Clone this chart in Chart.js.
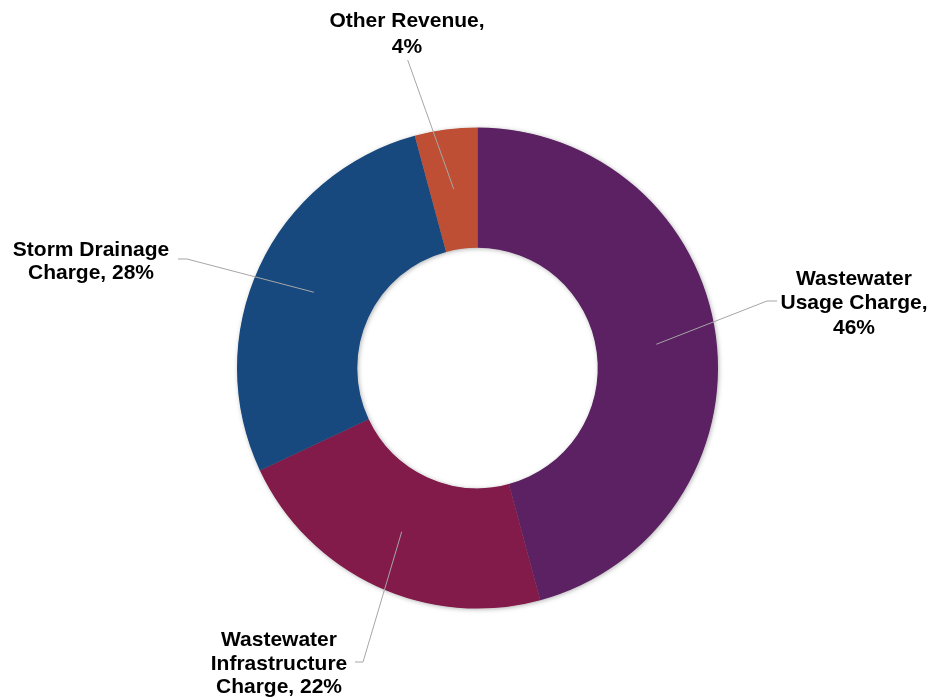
<!DOCTYPE html>
<html>
<head>
<meta charset="utf-8">
<script src="https://cdn.jsdelivr.net/npm/chart.js@4/dist/chart.umd.min.js"></script>
<style>
  html, body { margin: 0; padding: 0; background: #ffffff; }
  #wrap { width: 930px; height: 699px; }
</style>
</head>
<body>
<div id="wrap"><canvas id="c" width="930" height="699"></canvas></div>
<script>
// ---- data ----
const categories = ["Wastewater Usage Charge", "Wastewater Infrastructure Charge", "Storm Drainage Charge", "Other Revenue"];
const shares = [45.8, 22.2, 27.8, 4.2];
const labelLines = [
  ["Wastewater", "Usage Charge,", "{p}"],
  ["Wastewater", "Infrastructure", "Charge, {p}"],
  ["Storm Drainage", "Charge, {p}"],
  ["Other Revenue,", "{p}"]
];
const colors = ["#5B2162", "#821A4A", "#17497F", "#BE4F35"];

// ---- label layout (text placement like the original) ----
const labelLayout = [
  { x: 854, baselines: [285, 309, 334], leader: [[777, 301], [767, 301]] },
  { x: 279, baselines: [646, 669.5, 692.5], leader: [[355, 662], [363, 662]] },
  { x: 91, baselines: [256, 279], leader: [[178, 259], [187, 259]] },
  { x: 407, baselines: [27, 53], leader: [[407.7, 60]] }
];

const shadowRing = {
  id: 'shadowRing',
  beforeDatasetsDraw(chart) {
    const meta = chart.getDatasetMeta(0);
    const a = meta.data[0];
    if (!a) return;
    const ctx = chart.ctx;
    ctx.save();
    ctx.shadowColor = 'rgba(0,0,0,0.35)';
    ctx.shadowBlur = 5;
    ctx.shadowOffsetX = 1;
    ctx.shadowOffsetY = 1;
    ctx.fillStyle = '#888888';
    ctx.beginPath();
    ctx.arc(a.x, a.y, a.outerRadius - 0.5, 0, Math.PI * 2, false);
    ctx.arc(a.x, a.y, a.innerRadius + 0.5, 0, Math.PI * 2, true);
    ctx.closePath();
    ctx.fill();
    ctx.restore();
  }
};

const labelsPlugin = {
  id: 'sliceLabels',
  afterDatasetsDraw(chart) {
    const ctx = chart.ctx;
    const meta = chart.getDatasetMeta(0);
    const total = shares.reduce((s, v) => s + v, 0);
    meta.data.forEach((arc, i) => {
      const lay = labelLayout[i];
      const mid = arc.tooltipPosition();
      // leader line
      ctx.save();
      ctx.strokeStyle = '#A6A6A6';
      ctx.lineWidth = 1;
      ctx.beginPath();
      lay.leader.forEach((p, k) => { if (k === 0) ctx.moveTo(p[0], p[1]); else ctx.lineTo(p[0], p[1]); });
      ctx.lineTo(mid.x, mid.y);
      ctx.stroke();
      ctx.restore();
      // text
      const pct = Math.round(shares[i] / total * 100) + '%';
      ctx.save();
      ctx.fillStyle = '#000000';
      ctx.font = 'bold 21px "Liberation Sans", Arial, sans-serif';
      ctx.textAlign = 'center';
      ctx.textBaseline = 'alphabetic';
      labelLines[i].forEach((ln, k) => {
        ctx.fillText(ln.replace('{p}', pct), lay.x, lay.baselines[k]);
      });
      ctx.restore();
    });
  }
};

new Chart(document.getElementById('c'), {
  type: 'doughnut',
  data: {
    labels: categories,
    datasets: [{
      data: shares,
      backgroundColor: colors,
      borderWidth: 0,
      hoverOffset: 0
    }]
  },
  options: {
    responsive: false,
    animation: false,
    cutout: '50%',
    layout: { padding: { left: 237, right: 212, top: 127.5, bottom: 90.5 } },
    plugins: {
      legend: { display: false },
      tooltip: { enabled: false }
    }
  },
  plugins: [shadowRing, labelsPlugin]
});
</script>
</body>
</html>
